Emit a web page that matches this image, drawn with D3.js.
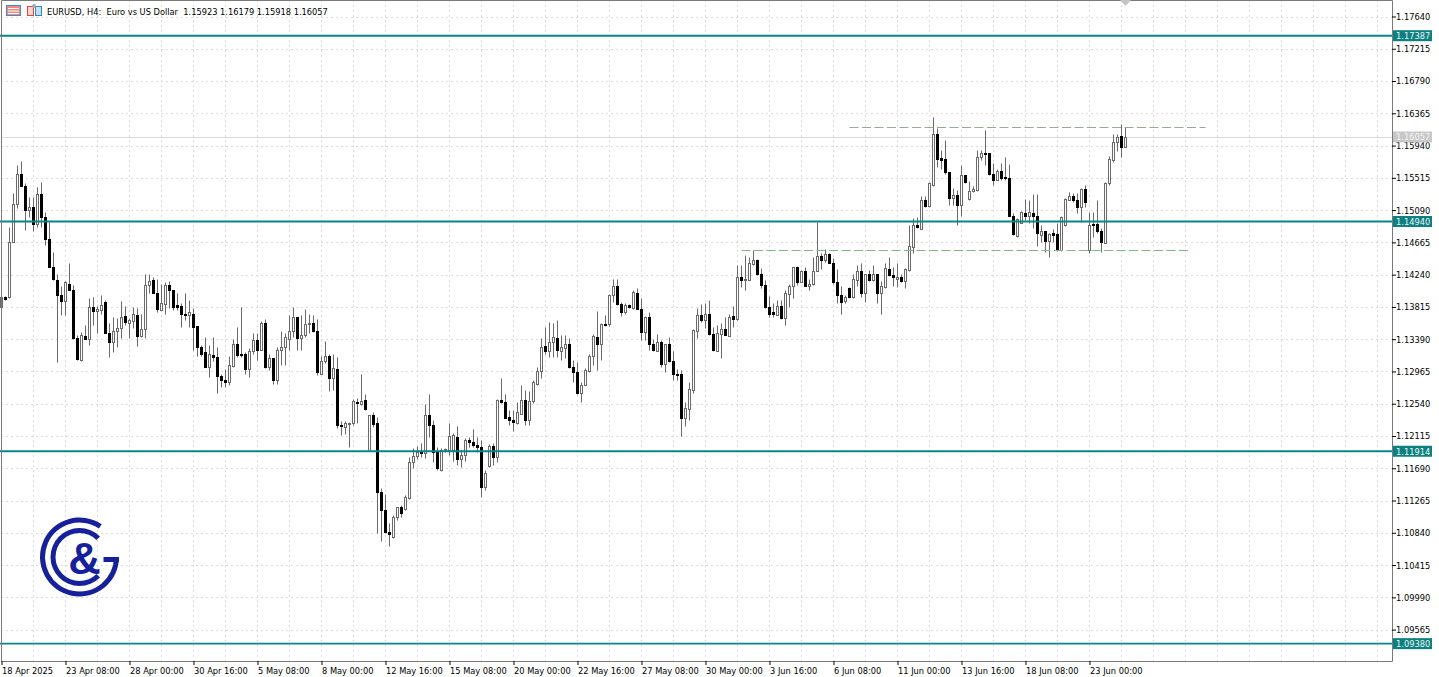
<!DOCTYPE html>
<html>
<head>
<meta charset="utf-8">
<script src="https://cdn.jsdelivr.net/npm/d3@7"></script>
<style>
body { margin: 0; background: #fff; }
text { font-family: "DejaVu Sans Condensed", "DejaVu Sans", sans-serif; font-size: 9px; fill: #000; }
</style>
</head>
<body>
<div id="chart-area"></div>
<script>
// EURUSD H4 bars
const opens = [
1.13808,1.13940,1.13940,1.14664,1.15177,1.15572,1.15414,1.15098,1.15125,1.14901,
1.15296,1.14993,1.14703,1.14335,1.14176,1.13966,1.13887,1.14123,1.14044,1.13400,
1.13110,1.13426,1.13386,1.13808,1.13755,1.13768,1.13874,1.13465,1.13347,1.13492,
1.13532,1.13689,1.13597,1.13624,1.13715,1.13426,1.13518,1.14110,1.14163,1.13992,
1.13768,1.13847,1.14110,1.14032,1.13834,1.13821,1.13728,1.13715,1.13728,1.13558,
1.13281,1.13215,1.13018,1.13188,1.13149,1.12899,1.12859,1.12820,1.13031,1.13320,
1.13201,1.13201,1.12991,1.13228,1.13373,1.13254,1.13597,1.13018,1.13136,1.12859,
1.13241,1.13281,1.13386,1.13492,1.13676,1.13400,1.13439,1.13584,1.13597,1.13492,
1.12938,1.13097,1.13175,1.12873,1.12991,1.12254,1.12228,1.12267,1.12280,1.12557,
1.12530,1.12583,1.11912,1.12385,1.12280,1.11372,1.11134,1.10845,1.10779,1.11042,
1.11174,1.11147,1.11293,1.11767,1.11846,1.11899,1.11885,1.12398,1.12254,1.11899,
1.11661,1.11925,1.11925,1.11925,1.12096,1.11806,1.11859,1.12056,1.12030,1.11990,
1.11964,1.11437,1.11714,1.11977,1.11833,1.12583,1.12557,1.12359,1.12332,1.12280,
1.12411,1.12583,1.12332,1.12570,1.12806,1.12965,1.13294,1.13228,1.13347,1.13400,
1.13228,1.13268,1.13333,1.13018,1.12952,1.12675,1.12780,1.12965,1.13175,1.13413,
1.13333,1.13584,1.13584,1.13966,1.14084,1.13847,1.13742,1.13834,1.13795,1.13992,
1.13782,1.13479,1.13676,1.13320,1.13228,1.13347,1.13057,1.13320,1.13097,1.12938,
1.12925,1.12346,1.12464,1.12715,1.13492,1.13715,1.13637,1.13728,1.13452,1.13228,
1.13452,1.13518,1.13426,1.13689,1.13650,1.14203,1.14176,1.14176,1.14374,1.14427,
1.14255,1.14110,1.13808,1.13742,1.13715,1.13821,1.13663,1.13979,1.14097,1.14335,
1.14137,1.14282,1.14097,1.14123,1.14282,1.14480,1.14427,1.14506,1.14387,1.14137,
1.13966,1.13887,1.14058,1.13940,1.14176,1.14282,1.13992,1.14255,1.14163,1.14242,
1.13992,1.14071,1.14308,1.14229,1.14189,1.14203,1.14150,1.14295,1.14598,1.14888,
1.14835,1.15217,1.15138,1.15427,1.16086,1.15771,1.15758,1.15586,1.15243,1.15283,
1.15151,1.15546,1.15230,1.15336,1.15349,1.15784,1.15837,1.15837,1.15572,1.15493,
1.15599,1.15520,1.15507,1.15019,1.14743,1.14914,1.15046,1.15019,1.15046,1.15019,
1.14756,1.14809,1.14677,1.14782,1.14769,1.14559,1.14888,1.15217,1.15270,1.15217,
1.15125,1.15362,1.14559,1.14901,1.14901,1.14809,1.14651,1.15441,1.15744,1.15982,
1.16060,1.15923];
const highs = [
1.13953,1.13953,1.14861,1.15309,1.15678,1.15731,1.15441,1.15257,1.15257,1.15388,
1.15454,1.15059,1.14927,1.14532,1.14242,1.14097,1.14150,1.14387,1.14110,1.13439,
1.13479,1.13571,1.13926,1.13940,1.13821,1.13966,1.13900,1.13597,1.13676,1.13663,
1.13887,1.13821,1.13663,1.13808,1.13795,1.13728,1.14242,1.14255,1.14203,1.14189,
1.14123,1.14137,1.14150,1.14032,1.13992,1.13860,1.13992,1.13900,1.13795,1.13558,
1.13307,1.13413,1.13307,1.13413,1.13281,1.12938,1.12991,1.13162,1.13386,1.13545,
1.13808,1.13215,1.13268,1.13465,1.13465,1.13624,1.13650,1.13201,1.13136,1.13281,
1.13492,1.13465,1.13702,1.13808,1.13676,1.13702,1.13782,1.13728,1.13715,1.13650,
1.13175,1.13360,1.13201,1.13201,1.13149,1.12306,1.12306,1.12293,1.12596,1.12609,
1.12925,1.12662,1.12398,1.12425,1.12359,1.11424,1.11345,1.10963,1.11068,1.11174,
1.11200,1.11332,1.11833,1.11951,1.11977,1.12017,1.12530,1.12662,1.12332,1.11964,
1.11951,1.11951,1.12280,1.12148,1.12241,1.11925,1.12082,1.12096,1.12201,1.12096,
1.12056,1.11661,1.12003,1.12017,1.12596,1.12885,1.12662,1.12451,1.12451,1.12557,
1.12780,1.12715,1.12701,1.12846,1.13018,1.13400,1.13545,1.13610,1.13597,1.13637,
1.13439,1.13439,1.13400,1.13110,1.13084,1.12820,1.13005,1.13201,1.13452,1.13755,
1.13597,1.13702,1.13979,1.14189,1.14189,1.13874,1.13860,1.13847,1.14044,1.14058,
1.13926,1.13689,1.13742,1.13386,1.13452,1.13373,1.13333,1.13413,1.13228,1.12991,
1.12978,1.12557,1.12820,1.13518,1.13795,1.13847,1.13860,1.13900,1.13545,1.13571,
1.13597,1.13676,1.13728,1.13821,1.14361,1.14361,1.14493,1.14466,1.14559,1.14440,
1.14321,1.14163,1.13953,1.13860,1.13900,1.13900,1.14044,1.14123,1.14335,1.14348,
1.14295,1.14335,1.14189,1.14466,1.14927,1.14519,1.14572,1.14519,1.14453,1.14308,
1.14097,1.13966,1.14071,1.14255,1.14361,1.14387,1.14255,1.14295,1.14361,1.14255,
1.14150,1.14387,1.14466,1.14335,1.14387,1.14255,1.14321,1.14888,1.14980,1.14993,
1.15270,1.15270,1.15454,1.16310,1.16165,1.15876,1.16007,1.15586,1.15375,1.15349,
1.15678,1.15546,1.15467,1.15414,1.15876,1.15876,1.16139,1.15837,1.15704,1.15638,
1.15717,1.15784,1.15691,1.15046,1.14980,1.15072,1.15230,1.15217,1.15296,1.15296,
1.14888,1.14809,1.14795,1.14835,1.14914,1.15006,1.15243,1.15322,1.15309,1.15309,
1.15375,1.15427,1.15059,1.15059,1.15217,1.14848,1.15454,1.15809,1.16086,1.16086,
1.16218,1.16179];
const lows = [
1.13808,1.13900,1.13926,1.14664,1.15112,1.15414,1.14822,1.14993,1.14809,1.14861,
1.14861,1.14625,1.14335,1.14176,1.13084,1.13715,1.13715,1.14044,1.13386,1.13110,
1.13097,1.13386,1.13307,1.13571,1.13465,1.13728,1.13465,1.13149,1.13215,1.13281,
1.13400,1.13571,1.13400,1.13532,1.13294,1.13413,1.13400,1.13992,1.13992,1.13742,
1.13768,1.13728,1.13795,1.13768,1.13768,1.13545,1.13637,1.13545,1.13241,1.13175,
1.13175,1.13018,1.12886,1.13097,1.12675,1.12754,1.12754,1.12793,1.13018,1.13149,
1.13149,1.12938,1.12886,1.13201,1.13110,1.13254,1.13005,1.12978,1.12806,1.12806,
1.13044,1.13044,1.13254,1.13413,1.13254,1.13254,1.13413,1.13465,1.13479,1.12912,
1.12925,1.13071,1.12701,1.12715,1.12214,1.12122,1.12135,1.11964,1.12254,1.12280,
1.12517,1.12451,1.11912,1.12228,1.10832,1.10726,1.10832,1.10660,1.10765,1.11003,
1.11042,1.11134,1.11279,1.11688,1.11806,1.11833,1.11820,1.12096,1.11767,1.11661,
1.11648,1.11899,1.11859,1.11780,1.11727,1.11701,1.11780,1.11964,1.11964,1.11899,
1.11306,1.11398,1.11701,1.11727,1.11767,1.12543,1.12346,1.12254,1.12175,1.12267,
1.12411,1.12254,1.12254,1.12543,1.12793,1.12873,1.13201,1.13149,1.13149,1.13149,
1.13110,1.13136,1.13005,1.12820,1.12662,1.12557,1.12780,1.12952,1.13044,1.12978,
1.13110,1.13558,1.13558,1.13874,1.13834,1.13689,1.13728,1.13795,1.13782,1.13782,
1.13373,1.13373,1.13241,1.13228,1.13228,1.13018,1.12952,1.13084,1.12846,1.12859,
1.12109,1.12241,1.12320,1.12675,1.13400,1.13610,1.13532,1.13439,1.13228,1.13228,
1.13136,1.13439,1.13426,1.13545,1.13637,1.14071,1.14044,1.14163,1.14361,1.14229,
1.14058,1.13795,1.13676,1.13676,1.13702,1.13650,1.13571,1.13808,1.13926,1.14110,
1.14137,1.14084,1.14044,1.14110,1.14282,1.14308,1.14413,1.14387,1.14123,1.13860,
1.13728,1.13860,1.13926,1.13926,1.14097,1.13940,1.13874,1.14150,1.14150,1.13860,
1.13728,1.14058,1.14216,1.14097,1.14071,1.14137,1.14058,1.14282,1.14519,1.14848,
1.14835,1.15125,1.15125,1.15414,1.15652,1.15638,1.15572,1.15151,1.15151,1.14888,
1.15019,1.15441,1.15217,1.15322,1.15336,1.15744,1.15678,1.15559,1.15427,1.15493,
1.15493,1.15480,1.15006,1.14756,1.14730,1.14914,1.14954,1.14914,1.14848,1.14611,
1.14664,1.14532,1.14466,1.14664,1.14545,1.14545,1.14875,1.15217,1.15191,1.15046,
1.14927,1.15125,1.14519,1.14730,1.14795,1.14532,1.14651,1.15427,1.15730,1.15862,
1.15796,1.15918];
const closes = [
1.13940,1.13914,1.14664,1.15177,1.15572,1.15414,1.15085,1.15125,1.14901,1.15296,
1.14993,1.14703,1.14335,1.14189,1.13966,1.13887,1.14137,1.14044,1.13400,1.13123,
1.13439,1.13386,1.13808,1.13755,1.13782,1.13834,1.13465,1.13347,1.13492,1.13532,
1.13676,1.13610,1.13637,1.13728,1.13426,1.13518,1.14110,1.14150,1.13992,1.13782,
1.13860,1.14110,1.14032,1.13808,1.13808,1.13728,1.13702,1.13742,1.13545,1.13281,
1.13201,1.13018,1.13201,1.13149,1.12899,1.12859,1.12820,1.13044,1.13320,1.13188,
1.13188,1.12991,1.13228,1.13373,1.13254,1.13597,1.13018,1.13136,1.12859,1.13254,
1.13281,1.13413,1.13492,1.13676,1.13400,1.13439,1.13584,1.13597,1.13492,1.12952,
1.13097,1.13175,1.12873,1.13005,1.12254,1.12241,1.12280,1.12280,1.12570,1.12543,
1.12570,1.12464,1.12385,1.12267,1.11372,1.11134,1.10845,1.10818,1.11042,1.11174,
1.11095,1.11306,1.11767,1.11846,1.11899,1.11885,1.12385,1.12254,1.11899,1.11688,
1.11925,1.11938,1.12109,1.12122,1.11806,1.11859,1.12056,1.12030,1.11990,1.11964,
1.11437,1.11622,1.11977,1.11833,1.12583,1.12557,1.12346,1.12320,1.12293,1.12425,
1.12583,1.12332,1.12570,1.12820,1.12965,1.13281,1.13228,1.13347,1.13413,1.13241,
1.13281,1.13333,1.13018,1.12952,1.12675,1.12793,1.12978,1.13175,1.13426,1.13333,
1.13584,1.13571,1.13966,1.14097,1.13847,1.13742,1.13834,1.13808,1.14005,1.13782,
1.13479,1.13676,1.13320,1.13254,1.13347,1.13057,1.13320,1.13097,1.12938,1.12925,
1.12346,1.12478,1.12728,1.13505,1.13715,1.13637,1.13728,1.13452,1.13241,1.13465,
1.13518,1.13439,1.13676,1.13650,1.14203,1.14176,1.14189,1.14387,1.14427,1.14255,
1.14110,1.13808,1.13728,1.13728,1.13821,1.13663,1.13992,1.14097,1.14335,1.14137,
1.14282,1.14097,1.14123,1.14282,1.14480,1.14427,1.14506,1.14387,1.14137,1.13966,
1.13874,1.13940,1.13940,1.14189,1.14282,1.13992,1.14255,1.14163,1.14242,1.13992,
1.14084,1.14321,1.14229,1.14203,1.14203,1.14150,1.14308,1.14611,1.14888,1.14862,
1.15217,1.15138,1.15441,1.16099,1.15758,1.15744,1.15586,1.15243,1.15283,1.15151,
1.15546,1.15454,1.15336,1.15362,1.15784,1.15837,1.15823,1.15572,1.15493,1.15599,
1.15507,1.15507,1.15019,1.14769,1.14967,1.15059,1.15019,1.15059,1.15019,1.14782,
1.14809,1.14677,1.14769,1.14756,1.14559,1.14993,1.15230,1.15270,1.15217,1.15125,
1.15362,1.15191,1.14888,1.14888,1.14809,1.14664,1.15441,1.15758,1.15982,1.16047,
1.15915,1.16057];

const priceTicks = [1.1764,1.17215,1.1679,1.16365,1.1594,1.15515,1.1509,1.14665,1.1424,1.13815,
	1.1339,1.12965,1.1254,1.12115,1.1169,1.11265,1.1084,1.10415,1.0999,1.09565];
const timeLabels = ["18 Apr 2025","23 Apr 08:00","28 Apr 00:00","30 Apr 16:00","5 May 08:00","8 May 00:00",
	"12 May 16:00","15 May 08:00","20 May 00:00","22 May 16:00","27 May 08:00","30 May 00:00",
	"3 Jun 16:00","6 Jun 08:00","11 Jun 00:00","13 Jun 16:00","18 Jun 08:00","23 Jun 00:00"];
const levels = [1.17387,1.1494,1.11914,1.0938];
const lastPrice = 1.16057;
const resistance = 1.16178, support = 1.14559;

let width = 1439, height = 677;
let plotRight = 1392, plotBottom = 661;

let svg = d3.select("#chart-area").append("svg")
	.attr("width", width)
	.attr("height", height)
	.style("display", "block");

// 4 px per bar
let xScale = d3.scaleLinear().domain([0, 16]).range([1.5, 65.5]);
let yScale = d3.scaleLinear().domain([1.1764, 1.09565]).range([16.5, 629.6]);
let py = (v)=> Math.round(yScale(v)) + 0.5;

// grid
let gridX = d3.range(0, 348, 8).filter(i=> i > 0);
svg.append("g").selectAll("line").data(gridX).enter().append("line")
	.attr("x1", d=>xScale(d)).attr("x2", d=>xScale(d))
	.attr("y1", 0).attr("y2", plotBottom)
	.attr("stroke", "#dcdcdc").attr("stroke-dasharray", "2 3");
svg.append("g").selectAll("line").data(priceTicks).enter().append("line")
	.attr("x1", 1).attr("x2", plotRight)
	.attr("y1", d=>py(d)).attr("y2", d=>py(d))
	.attr("stroke", "#dcdcdc").attr("stroke-dasharray", "2 3");

// last price line
svg.append("line")
	.attr("x1", 1).attr("x2", plotRight)
	.attr("y1", py(lastPrice)).attr("y2", py(lastPrice))
	.attr("stroke", "#dadada");

// candles
let bars = svg.append("g").selectAll("g").data(opens).enter().append("g");
bars.append("line")
	.attr("x1", (d,i)=>xScale(i)).attr("x2", (d,i)=>xScale(i))
	.attr("y1", (d,i)=>py(highs[i])).attr("y2", (d,i)=>py(lows[i]))
	.attr("stroke", "#6a6a6a");
bars.each(function(d,i){
	let top = py(Math.max(opens[i], closes[i]));
	let bottom = py(Math.min(opens[i], closes[i]));
	let up = closes[i] >= opens[i];
	if (up) {
		d3.select(this).append("rect")
			.attr("x", xScale(i)-1).attr("y", top)
			.attr("width", 2).attr("height", Math.max(bottom-top, 1))
			.attr("fill", "#fff").attr("stroke", "#6a6a6a");
	} else {
		d3.select(this).append("rect")
			.attr("x", xScale(i)-1.5).attr("y", top-0.5)
			.attr("width", 3).attr("height", Math.max(bottom-top+1, 2))
			.attr("fill", "#000");
	}
});

// horizontal levels
svg.append("g").selectAll("line").data(levels).enter().append("line")
	.attr("x1", 0).attr("x2", plotRight)
	.attr("y1", d=>yScale(d)).attr("y2", d=>yScale(d))
	.attr("stroke", "#0a8585").attr("stroke-width", 1.9);

// dashed trend lines
svg.append("line")
	.attr("x1", xScale(212)).attr("x2", xScale(301))
	.attr("y1", py(resistance)-1).attr("y2", py(resistance)-1)
	.attr("stroke", "#9aa89a").attr("stroke-width", 1.2).attr("stroke-dasharray", "9 3.5");
svg.append("line")
	.attr("x1", xScale(185)).attr("x2", xScale(297))
	.attr("y1", py(support)).attr("y2", py(support))
	.attr("stroke", "#86b48c").attr("stroke-width", 1.2).attr("stroke-dasharray", "9 3.5");

// frame
svg.append("path")
	.attr("d", `M${plotRight+.5},0.5H1.5V${plotBottom+.5}H${plotRight+.5}V0.5`)
	.attr("fill", "none").attr("stroke", "#7a7a7a");

// axes
let xAxis = d3.axisBottom(xScale)
	.tickValues(timeLabels.map((d,i)=>i*16))
	.tickFormat((d,i)=>timeLabels[i])
	.tickSize(4).tickPadding(2);
let gx = svg.append("g").attr("transform", `translate(0,${plotBottom})`).call(xAxis);
gx.select(".domain").remove();
gx.selectAll("text").attr("text-anchor", "start").attr("x", 0)
	.style("font-family", '"DejaVu Sans Condensed"').style("font-size", "9.2px");

let yAxis = d3.axisRight(yScale)
	.tickValues(priceTicks)
	.tickFormat(d3.format(".5f"))
	.tickSize(4).tickPadding(0);
let gy = svg.append("g").attr("transform", `translate(${plotRight},0)`).call(yAxis);
gy.select(".domain").remove();
gy.selectAll("text").style("font-family", '"DejaVu Sans Condensed"').style("font-size", "9.2px");

// price tags
let tags = svg.append("g").selectAll("g").data(levels).enter().append("g")
	.attr("transform", d=>`translate(${plotRight+1},${yScale(d)})`);
tags.append("rect").attr("x", 0).attr("y", -5.5).attr("width", 39).attr("height", 11).attr("fill", "#0f8080");
tags.append("text").attr("x", 3).attr("y", 3.5).style("fill", "#e6f5f5").style("font-size", "9.2px").text(d=>d.toFixed(5));

let lastTag = svg.append("g").attr("transform", `translate(${plotRight+1},${py(lastPrice)-1})`);
lastTag.append("rect").attr("x", 0).attr("y", -5).attr("width", 39).attr("height", 11).attr("fill", "#c8c8c8");
lastTag.append("text").attr("x", 3).attr("y", 3.5).style("fill", "#f4f4f4").style("font-size", "9.2px").text(lastPrice.toFixed(5));

// shift marker
svg.append("path").attr("d", "M1120,0H1131L1125.5,6Z").attr("fill", "#c4c4c4");

// header
svg.append("text").attr("x", 47).attr("y", 14.5)
	.style("white-space", "pre")
	.style("font-size", "9.2px")
	.text("EURUSD, H4:  Euro vs US Dollar  1.15923 1.16179 1.15918 1.16057");

// header icons
let icon1 = svg.append("g");
icon1.append("rect").attr("x", 6.5).attr("y", 5.5).attr("width", 14).attr("height", 10).attr("fill", "#f08a80").attr("stroke", "#3a8fd0");
[8.5, 11, 13.5].forEach(y=> icon1.append("line").attr("x1", 8).attr("x2", 19).attr("y1", y).attr("y2", y).attr("stroke", "#fff"));
let icon2 = svg.append("g");
icon2.append("rect").attr("x", 27.5).attr("y", 6.5).attr("width", 6).attr("height", 9).attr("fill", "#fbd4cf").attr("stroke", "#d8483c");
icon2.append("rect").attr("x", 35.5).attr("y", 6.5).attr("width", 6).attr("height", 9).attr("fill", "#bfe0f5").attr("stroke", "#2f86c8");
icon2.append("circle").attr("cx", 34).attr("cy", 6).attr("r", 2).attr("fill", "#a8a8a8");

// logo
let logoColor = "#17209b";
let arc = d3.arc();
let logo = svg.append("g").attr("transform", "translate(79.5,557)");
logo.append("path")
	.attr("d", arc({innerRadius: 34.5, outerRadius: 39.5, startAngle: Math.PI*0.19, endAngle: Math.PI*0.19 - Math.PI*1.69}))
	.attr("fill", logoColor);
logo.append("path")
	.attr("d", `M24,0H39.5V5H24Z`).attr("fill", logoColor);
logo.append("path")
	.attr("d", arc({innerRadius: 24, outerRadius: 29, startAngle: Math.PI*0.25, endAngle: -Math.PI*1.25}))
	.attr("fill", logoColor);
logo.append("text").attr("x", 5).attr("y", 17)
	.attr("text-anchor", "middle")
	.style("font-family", '"Liberation Sans"').style("font-weight", "bold").style("font-size", "45px")
	.style("fill", logoColor).text("&");
</script>
</body>
</html>
